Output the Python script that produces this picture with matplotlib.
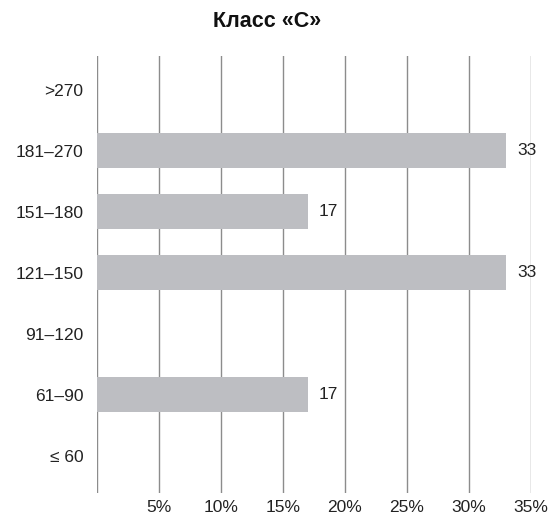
import matplotlib

matplotlib.use("Agg")
import matplotlib.pyplot as plt

plt.rcParams["font.family"] = ["Liberation Sans", "DejaVu Sans"]

# categories listed bottom to top
categories = ["≤ 60", "61–90", "91–120", "121–150", "151–180", "181–270", ">270"]
shares = [0, 17, 0, 33, 17, 33, 0]
x_ticks = [0, 5, 10, 15, 20, 25, 30, 35]
x_tick_labels = ["", "5%", "10%", "15%", "20%", "25%", "30%", "35%"]
title = "Класс «С»"

BAR_COLOR = "#bdbec2"
GRID_COLOR = "#8c8c8c"
TEXT_COLOR = "#222222"

fig = plt.figure(figsize=(5.5, 5.19), dpi=100)
ax = fig.add_axes([0.1764, 0.050, 0.789, 0.842])

positions = list(range(len(categories)))
ax.barh(positions, shares, height=0.57, color=BAR_COLOR, zorder=2)

for pos, value in zip(positions, shares):
    if value > 0:
        ax.annotate(
            f"{value}",
            xy=(value, pos),
            xytext=(8, 0),
            textcoords="offset points",
            va="center",
            ha="left",
            fontsize=12.5,
            color=TEXT_COLOR,
        )

ax.set_xlim(0, 35)
ax.set_ylim(-0.61, len(categories) - 1 + 0.55)
ax.set_xticks(x_ticks)
ax.set_xticklabels(x_tick_labels, fontsize=12.5, color=TEXT_COLOR)
ax.set_yticks(positions)
ax.set_yticklabels(categories, fontsize=12.5, color=TEXT_COLOR)
ax.tick_params(axis="both", length=0)
ax.tick_params(axis="x", pad=5)
ax.tick_params(axis="y", pad=10)

ax.grid(axis="x", color=GRID_COLOR, linewidth=1.0, zorder=1)
ax.grid(axis="y", visible=False)
for spine in ax.spines.values():
    spine.set_visible(False)

fig.text(0.4855, 0.958, title, ha="center", va="center", fontsize=15.5,
         fontweight="bold", color="#111111")

fig.savefig("out.png", dpi=100)
